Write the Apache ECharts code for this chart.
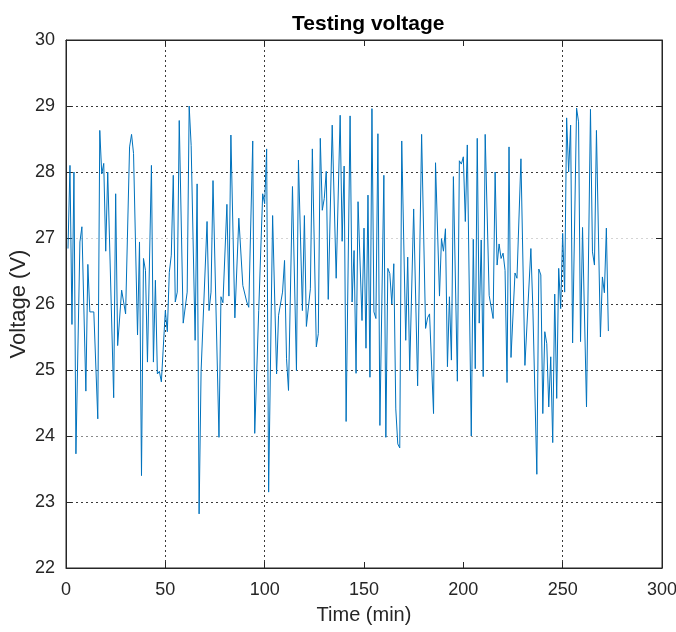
<!DOCTYPE html>
<html>
<head>
<meta charset="utf-8">
<script src="https://cdn.jsdelivr.net/npm/echarts@6/dist/echarts.min.js"></script>
<style>
  html, body { margin: 0; padding: 0; background: #fff; }
  #chart { width: 676px; height: 632px; }
</style>
</head>
<body>
<div id="chart"></div>
<script>
// ---- data ----
const chartTitle = 'Testing voltage';
const xName = 'Time (min)';
const yName = 'Voltage (V)';
const xTicks = [0, 50, 100, 150, 200, 250, 300];
const yTicks = [22, 23, 24, 25, 26, 27, 28, 29, 30];

// time (min) of each vertex of the trace
const times = [
  1,2,3,4,5,7,8,10,11,12,
  13,14,16,17,18,19,20,21,24,25,
  26,28,30,31,32,33,34,36,37,38,
  39,40,41,43,44,45,46,47,48,50,
  51,52,53,54,55,56,57,59,61,62,
  63,65,66,67,68,69,71,72,73,74,
  77,78,79,81,82,83,85,87,89,91,
  92,94,95,96,97,98,99,100,101,102,
  104,106,107,109,110,111,112,114,116,117,
  119,120,121,123,124,126,127,128,129,130,
  131,132,134,136,138,139,140,141,143,144,
  145,146,147,149,150,151,152,153,154,155,
  156,157,158,160,161,162,163,164,165,166,
  167,168,169,171,172,173,175,177,179,181,
  182,183,185,186,188,189,190,191,192,193,
  194,195,197,198,199,200,201,202,204,205,
  206,207,208,209,210,211,213,215,216,217,
  218,219,220,221,222,223,224,226,227,229,
  231,234,235,236,237,238,239,240,241,242,
  243,244,245,246,247,248,249,250,251,252,
  253,254,255,257,258,259,260,262,264,265,
  266,267,269,270,271,272,273
];
// voltage (V) at each of those times
const volts = [
  26.84,28.10,25.69,28.00,23.73,26.94,27.17,24.68,26.60,25.88,
  25.85,25.88,24.26,28.63,27.97,28.13,26.80,28.00,24.58,27.67,
  25.37,26.21,25.85,25.88,28.38,28.57,28.28,25.53,26.94,23.40,
  26.69,26.51,25.12,28.10,25.12,26.36,24.94,24.98,24.82,25.90,
  25.58,26.48,26.74,27.95,26.03,26.18,28.78,25.71,26.18,29.00,
  28.40,25.45,27.82,22.82,24.98,24.97,27.25,25.90,26.18,27.87,
  23.98,26.11,26.02,27.51,26.12,28.56,25.79,27.30,26.28,26.03,
  25.95,28.47,24.04,24.01,25.90,25.93,27.67,27.52,28.35,23.15,
  27.34,24.94,25.83,26.18,26.66,25.17,24.69,27.78,24.99,28.18,
  25.90,27.34,25.66,26.23,28.35,25.35,25.55,28.51,27.42,27.60,
  28.01,26.07,28.71,26.39,28.86,26.95,28.09,24.22,28.85,26.03,
  26.81,24.95,27.55,25.75,27.15,25.33,27.65,24.89,28.96,25.88,
  25.78,28.58,24.16,27.95,23.98,26.54,26.46,26.00,26.61,24.41,
  23.88,23.82,28.47,25.45,26.71,24.99,27.44,24.76,28.57,25.63,
  25.79,25.85,24.34,28.14,26.12,26.99,26.80,27.14,25.05,26.11,
  25.15,27.93,24.83,28.17,28.12,28.23,27.25,28.41,24.00,26.98,
  25.02,28.51,25.71,26.97,24.90,28.57,26.13,25.78,28.00,26.59,
  26.91,26.69,26.77,26.51,24.81,28.38,25.19,26.47,26.39,28.20,
  25.07,26.84,25.93,25.92,23.42,26.53,26.44,24.34,25.58,25.40,
  24.44,25.20,23.90,26.15,24.57,26.54,25.93,27.07,26.18,28.82,
  28.00,28.71,25.41,28.97,28.76,25.43,27.16,24.44,28.95,26.79,
  26.59,28.63,25.50,26.41,26.17,27.15,25.59
];

// ---- chart ----
const SANS = "'Liberation Sans', Arial, sans-serif";
const AX = '#262626';
const NONE = 'rgba(0,0,0,0)';
const D = '#3a3a3a';

const xMin = xTicks[0], xMax = xTicks[xTicks.length - 1], xStep = xTicks[1] - xTicks[0];
const yMin = yTicks[0], yMax = yTicks[yTicks.length - 1], yStep = yTicks[1] - yTicks[0];

const chart = echarts.init(document.getElementById('chart'), null, { renderer: 'canvas' });
const baseAxis = {
  type: 'value',
  axisLine: { show: true, onZero: false, lineStyle: { color: AX, width: 1 } },
  axisTick: { show: true, inside: true, length: 6, lineStyle: { color: AX } }
};

chart.setOption({
  animation: false,
  backgroundColor: '#fff',
  title: {
    text: chartTitle,
    left: 287, top: 9,
    textStyle: { fontFamily: SANS, fontWeight: 'bold', fontSize: 21, color: '#000' }
  },
  grid: {
    left: 66, right: 14, top: 40, bottom: 64,
    containLabel: false, outerBoundsMode: 'none',
    show: true, borderColor: AX, borderWidth: 1, backgroundColor: '#fff'
  },
  xAxis: [
    Object.assign({}, baseAxis, {
      position: 'bottom', min: xMin, max: xMax, interval: xStep,
      axisLabel: { color: AX, fontFamily: SANS, fontSize: 18, margin: 13 },
      splitLine: { show: true, lineStyle: { type: [2, 3], width: 1, color: [NONE, D, D, NONE, NONE, D, NONE] } },
      name: xName, nameLocation: 'middle', nameGap: 37, nameMoveOverlap: false,
      nameTextStyle: { fontFamily: SANS, fontSize: 20, color: AX }
    }),
    Object.assign({}, baseAxis, {
      position: 'top', min: xMin, max: xMax, interval: xStep,
      axisLabel: { show: false }, splitLine: { show: false }
    })
  ],
  yAxis: [
    Object.assign({}, baseAxis, {
      position: 'left', min: yMin, max: yMax, interval: yStep,
      axisLabel: { color: AX, fontFamily: SANS, fontSize: 18, margin: 11 },
      splitLine: { show: true, lineStyle: { type: [2, 3], width: 1, color: [NONE, D, '#8a8a8a', D, D, '#d4d4d4', D, D, NONE] } },
      name: yName, nameLocation: 'middle', nameGap: 36, nameMoveOverlap: false,
      nameTextStyle: { fontFamily: SANS, fontSize: 22, color: AX }
    }),
    Object.assign({}, baseAxis, {
      position: 'right', min: yMin, max: yMax, interval: yStep,
      axisLabel: { show: false }, splitLine: { show: false }
    })
  ],
  series: [{
    type: 'line',
    xAxisIndex: 0, yAxisIndex: 0,
    data: times.map((t, i) => [t, volts[i]]),
    showSymbol: false,
    lineStyle: { color: '#0072BD', width: 1 },
    itemStyle: { color: '#0072BD' }
  }]
});
</script>
</body>
</html>
